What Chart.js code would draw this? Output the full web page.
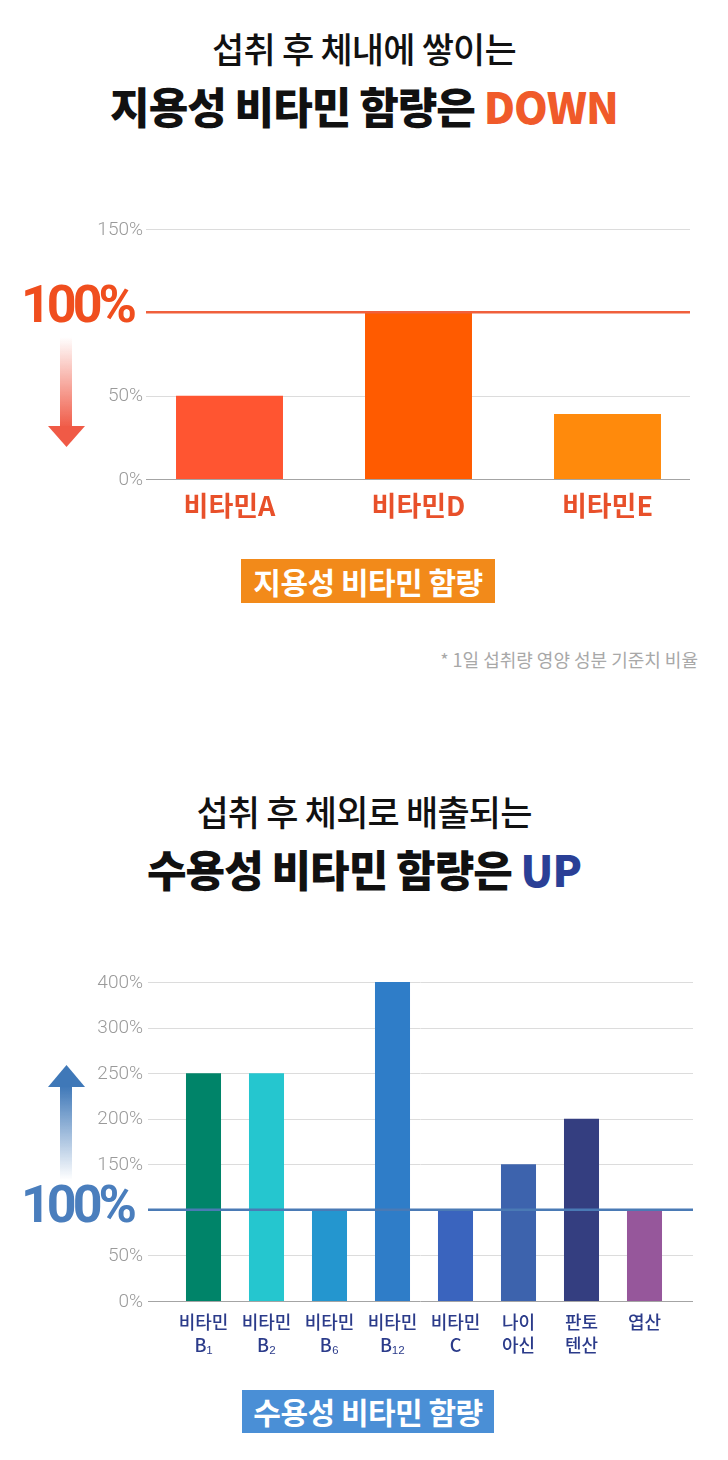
<!DOCTYPE html>
<html><head><meta charset="utf-8">
<script src="https://cdn.jsdelivr.net/npm/chart.js@4.4.1/dist/chart.umd.min.js"></script>
<style>
html,body{margin:0;padding:0;background:#fff;}
#page{position:relative;width:728px;height:1460px;overflow:hidden;font-family:'Noto Sans CJK KR',sans-serif;}
.abs{position:absolute;}
.t1{position:absolute;left:0;width:728px;text-align:center;font-size:35px;font-weight:500;color:#111;letter-spacing:-0.8px;line-height:35px;white-space:nowrap;}
.t2{position:absolute;left:0;width:728px;text-align:center;font-size:43px;font-weight:900;color:#111;letter-spacing:-1px;line-height:43px;white-space:nowrap;}
.box{position:absolute;color:#fff;font-weight:700;font-size:30px;text-align:center;white-space:nowrap;letter-spacing:-0.5px;}
.big{position:absolute;left:21px;font-family:Roboto,sans-serif;font-weight:700;font-size:52px;letter-spacing:-4px;line-height:52px;}
.note{position:absolute;left:0;width:698px;text-align:right;font-size:18px;color:#a8a8a8;line-height:18px;}
canvas{position:absolute;left:0;}
</style></head>
<body><div id="page">
<div class="t1" style="top:30px">섭취 후 체내에 쌓이는</div>
<div class="t2" style="top:84px">지용성 비타민 함량은 <span style="color:#f05a2a">DOWN</span></div>

<canvas id="c1" width="728" height="340" style="top:200px"></canvas>
<div class="big" style="top:279px;color:#f04e1e">100%</div>
<div class="box" style="left:241px;top:559px;width:254px;height:44px;line-height:44px;background:#f28a1a">지용성 비타민 함량</div>
<div class="note" style="top:650px">* 1일 섭취량 영양 성분 기준치 비율</div>

<div class="t1" style="top:793px">섭취 후 체외로 배출되는</div>
<div class="t2" style="top:847px">수용성 비타민 함량은 <span style="color:#2a3f96">UP</span></div>

<canvas id="c2" width="728" height="420" style="top:950px"></canvas>
<div class="big" style="top:1179px;color:#4a7ebd">100%</div>
<div class="box" style="left:242px;top:1390px;width:252px;height:43px;line-height:43px;background:#4a8fd6">수용성 비타민 함량</div>

<svg class="abs" style="left:0;top:0" width="120" height="1460">
<defs>
<linearGradient id="gd" x1="0" y1="337" x2="0" y2="428" gradientUnits="userSpaceOnUse"><stop offset="0" stop-color="#f05a46" stop-opacity="0"/><stop offset="1" stop-color="#f05a46"/></linearGradient>
<linearGradient id="gu" x1="0" y1="1180" x2="0" y2="1086" gradientUnits="userSpaceOnUse"><stop offset="0" stop-color="#3f78b8" stop-opacity="0"/><stop offset="1" stop-color="#3f78b8"/></linearGradient>
</defs>
<rect x="60" y="337" width="12" height="90" fill="url(#gd)"/>
<polygon points="48,426 85,426 66.5,447" fill="#f05a46"/>
<rect x="60" y="1086" width="12" height="94" fill="url(#gu)"/>
<polygon points="48,1087 85,1087 66.5,1065" fill="#3f78b8"/>
</svg>
</div>
<script>
// ---------- data: chart 1 (fat-soluble) ----------
const cat1 = ['비타민A', '비타민D', '비타민E'];
const val1 = [50, 100, 39];
const col1 = ['#ff5531', '#ff5b00', '#ff8a0c'];
const yTickVals1 = [0, 50, 100, 150];
const yTickLbl1 = ['0%', '50%', '', '150%'];
const ref1 = 100;

// ---------- data: chart 2 (water-soluble) ----------
const cat2 = [['비타민','B₁'], ['비타민','B₂'], ['비타민','B₆'], ['비타민','B₁₂'], ['비타민','C'], ['나이','아신'], ['판토','텐산'], ['엽산']];
const val2 = [250, 250, 100, 400, 100, 150, 200, 100];
const col2 = ['#008469', '#25c6cf', '#2496cf', '#2f7dc8', '#3a64be', '#3d63ad', '#343e80', '#96579b'];
const yTickVals2 = [0, 50, 100, 150, 200, 250, 300, 400];
const yTickLbl2 = ['0%', '50%', '', '150%', '200%', '250%', '300%', '400%'];
const ref2 = 100;

// chart 2 axis has evenly spaced (non-linear) tick values
function posOf(v, ticks) {
  for (let i = 0; i < ticks.length - 1; i++) {
    if (v <= ticks[i + 1]) return i + (v - ticks[i]) / (ticks[i + 1] - ticks[i]);
  }
  return ticks.length - 1;
}

const KR = "'Noto Sans CJK KR', sans-serif";

function gridPlugin(id, x0, x1, labelX, labels, refPos, refColor) {
  return {
    id: id,
    beforeDatasetsDraw(chart) {
      const y = chart.scales.y, ctx = chart.ctx;
      ctx.save();
      y.ticks.forEach((t, i) => {
        const py = y.getPixelForValue(t.value);
        const lbl = labels[i];
        if (lbl) {
          ctx.font = '300 19px Roboto, sans-serif';
          ctx.fillStyle = '#9a9a9a';
          ctx.textAlign = 'right';
          ctx.textBaseline = 'middle';
          ctx.fillText(lbl, labelX, py + 1);
        }
        if (t.value === refPos) return;
        const ly = Math.round(py) + 0.5;
        ctx.strokeStyle = t.value === 0 ? '#a4a4a4' : '#dcdcdc';
        ctx.lineWidth = 1;
        ctx.beginPath(); ctx.moveTo(x0, ly); ctx.lineTo(x1, ly); ctx.stroke();
      });
      ctx.restore();
    },
    afterDatasetsDraw(chart) {
      const y = chart.scales.y, ctx = chart.ctx;
      const py = y.getPixelForValue(refPos);
      ctx.save();
      ctx.strokeStyle = refColor; ctx.lineWidth = 2.5;
      ctx.beginPath(); ctx.moveTo(x0, py); ctx.lineTo(x1, py); ctx.stroke();
      ctx.restore();
    }
  };
}

new Chart(document.getElementById('c1'), {
  type: 'bar',
  data: { labels: cat1, datasets: [{ data: val1, backgroundColor: col1, borderWidth: 0, barPercentage: 0.566, categoryPercentage: 1 }] },
  options: {
    responsive: false, animation: false, devicePixelRatio: 1,
    layout: { padding: { left: 0, right: 26, top: 29, bottom: 16 } },
    plugins: { legend: { display: false }, tooltip: { enabled: false } },
    scales: {
      x: {
        grid: { display: false, drawTicks: false }, border: { display: false },
        ticks: { color: '#e8502a', font: { family: KR, size: 27, weight: 'bold' }, padding: 11, autoSkip: false, maxRotation: 0 },
        afterFit(s) { s.height = 45; }
      },
      y: {
        min: 0, max: 150,
        grid: { display: false, drawTicks: false }, border: { display: false },
        afterBuildTicks(s) { s.ticks = yTickVals1.map(v => ({ value: v })); },
        ticks: { display: false, padding: 0 },
        afterFit(s) { s.width = 135; }
      }
    }
  },
  plugins: [gridPlugin('g1', 146, 690, 143, yTickLbl1, ref1, '#f0603c')]
});

new Chart(document.getElementById('c2'), {
  type: 'bar',
  data: { labels: cat2, datasets: [{ data: val2.map(v => posOf(v, yTickVals2)), backgroundColor: col2, borderWidth: 0, barPercentage: 0.556, categoryPercentage: 1 }] },
  options: {
    responsive: false, animation: false, devicePixelRatio: 1,
    layout: { padding: { left: 0, right: 52, top: 32, bottom: 14 } },
    plugins: { legend: { display: false }, tooltip: { enabled: false } },
    scales: {
      x: {
        grid: { display: false, drawTicks: false }, border: { display: false },
        ticks: { color: '#2b3b8a', font: { family: KR, size: 18, weight: 500, lineHeight: 1.3 }, padding: 9, autoSkip: false, maxRotation: 0 },
        afterFit(s) { s.height = 55; }
      },
      y: {
        min: 0, max: yTickVals2.length - 1,
        grid: { display: false, drawTicks: false }, border: { display: false },
        afterBuildTicks(s) { s.ticks = yTickVals2.map((v, i) => ({ value: i })); },
        ticks: { display: false, padding: 0 },
        afterFit(s) { s.width = 172; }
      }
    }
  },
  plugins: [gridPlugin('g2', 148, 693, 143, yTickLbl2, posOf(ref2, yTickVals2), '#4a7ab5')]
});
</script>
</body></html>
